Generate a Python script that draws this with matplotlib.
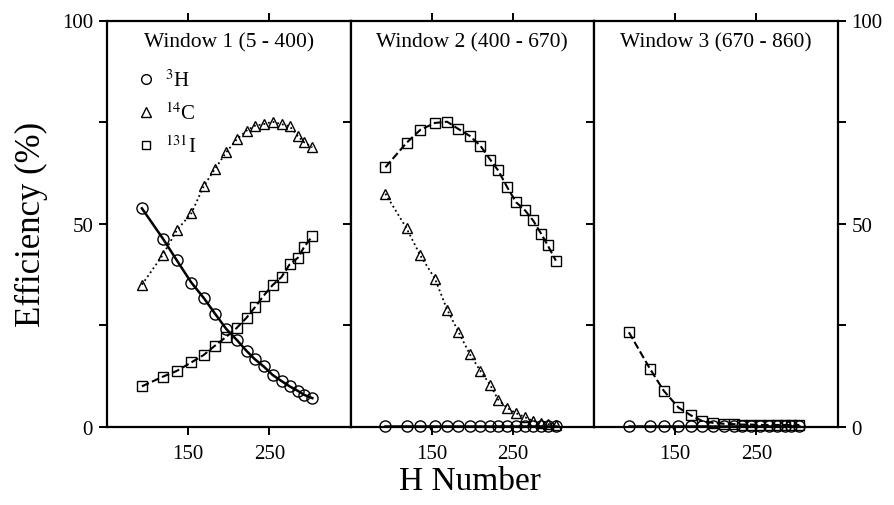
import matplotlib
matplotlib.use("Agg")
import matplotlib.pyplot as plt
from matplotlib.lines import Line2D

plt.rcParams['font.family'] = ['Liberation Serif', 'DejaVu Serif']
plt.rcParams['mathtext.fontset'] = 'stix'

# H numbers (quench indicator) of the samples
h_number = [93, 119, 136, 154, 169, 183, 197, 210, 222, 232, 243, 254, 265, 275, 285, 293, 303]

# Window 1 (5 - 400)
w1_h3 = [53.8, 46.3, 41.0, 35.5, 31.8, 27.9, 24.1, 21.4, 18.7, 16.7, 14.9, 12.8, 11.3, 10.0, 8.9, 7.9, 7.1]
w1_c14 = [35.0, 42.4, 48.4, 52.6, 59.2, 63.5, 67.6, 70.8, 72.9, 74.1, 74.5, 75.1, 74.5, 74.0, 71.6, 70.0, 68.8]
w1_i131 = [10.0, 12.4, 13.8, 15.9, 17.7, 20.0, 22.2, 24.4, 26.9, 29.4, 32.3, 34.9, 36.9, 40.0, 41.6, 44.3, 47.0]

# Window 2 (400 - 670)
w2_h3 = [0.3] * 17
w2_c14 = [57.4, 48.9, 42.2, 36.5, 28.9, 23.4, 17.9, 13.8, 10.4, 6.7, 4.7, 3.4, 2.4, 1.5, 1.0, 0.7, 0.6]
w2_i131 = [63.9, 69.9, 73.1, 74.8, 75.1, 73.3, 71.6, 69.2, 65.8, 63.1, 59.0, 55.3, 53.3, 50.8, 47.5, 44.7, 40.9]

# Window 3 (670 - 860)
w3_h3 = [0.3] * 17
w3_i131 = [23.3, 14.3, 8.9, 4.8, 2.9, 1.5, 1.0, 0.8, 0.7, 0.6, 0.6, 0.5, 0.5, 0.5, 0.5, 0.5, 0.5]

titles = ["Window 1 (5 - 400)", "Window 2 (400 - 670)", "Window 3 (670 - 860)"]
x_ticks = [150, 250]
y_ticks = [0, 25, 50, 75, 100]
y_ticklabels = ["0", "", "50", "", "100"]

fig = plt.figure(figsize=(8.94, 5.06), dpi=100)
left, bottom, height = 107 / 894, 1 - 428 / 506, (428 - 21.5) / 506
w = 243.5 / 894
axes = [fig.add_axes([left + i * w, bottom, w, height]) for i in range(3)]

st_h3 = dict(color='black', lw=1.8, ls='-', marker='o', ms=8, mfc='none', mec='black', mew=1.0)
st_c14 = dict(color='black', lw=1.3, ls=':', marker='^', ms=7.5, mfc='none', mec='black', mew=1.0)
st_i131 = dict(color='black', lw=1.5, ls='--', marker='s', ms=6.5, mfc='none', mec='black', mew=1.0)

data = [
    [(w1_h3, st_h3), (w1_c14, st_c14), (w1_i131, st_i131)],
    [(w2_h3, st_h3), (w2_c14, st_c14), (w2_i131, st_i131)],
    [(w3_h3, st_h3), (w3_i131, st_i131)],
]

for i, ax in enumerate(axes):
    for vals, st in data[i]:
        ax.plot(h_number, vals, clip_on=False, **st)
    ax.set_xlim(50, 350)
    ax.set_ylim(0, 100)
    ax.set_xticks(x_ticks)
    ax.set_xticklabels([str(t) for t in x_ticks], fontsize=15)
    ax.set_yticks(y_ticks)
    ax.set_yticklabels(y_ticklabels, fontsize=15)
    ax.tick_params(axis='x', direction='out', top=True, bottom=True, length=6, width=1.4, pad=6)
    ax.tick_params(axis='y', direction='out', left=True, right=True, length=6, width=1.4,
                   labelleft=(i == 0), labelright=(i == 2), pad=4)
    for sp in ax.spines.values():
        sp.set_linewidth(1.6)
    ax.text(0.5, 0.972, titles[i], transform=ax.transAxes, ha='center', va='top', fontsize=15.5)

handles = [Line2D([], [], ls='none', marker='o', ms=7, mfc='none', mec='black', mew=1.0),
           Line2D([], [], ls='none', marker='^', ms=6.5, mfc='none', mec='black', mew=1.0),
           Line2D([], [], ls='none', marker='s', ms=6, mfc='none', mec='black', mew=1.0)]
labels = [r'$^{3}$H', r'$^{14}$C', r'$^{131}$I']
axes[0].legend(handles, labels, loc='upper left', bbox_to_anchor=(0.1, 0.9), frameon=False,
               fontsize=15, handlelength=0.6, handletextpad=0.6, labelspacing=0.55, borderaxespad=0)

fig.text(0.035, (bottom + height / 2), "Efficiency (%)", rotation=90, ha='center', va='center', fontsize=25)
fig.text(470 / 894, 1 - 482 / 506, "H Number", ha='center', va='center', fontsize=24)

fig.savefig("out.png", dpi=100)
